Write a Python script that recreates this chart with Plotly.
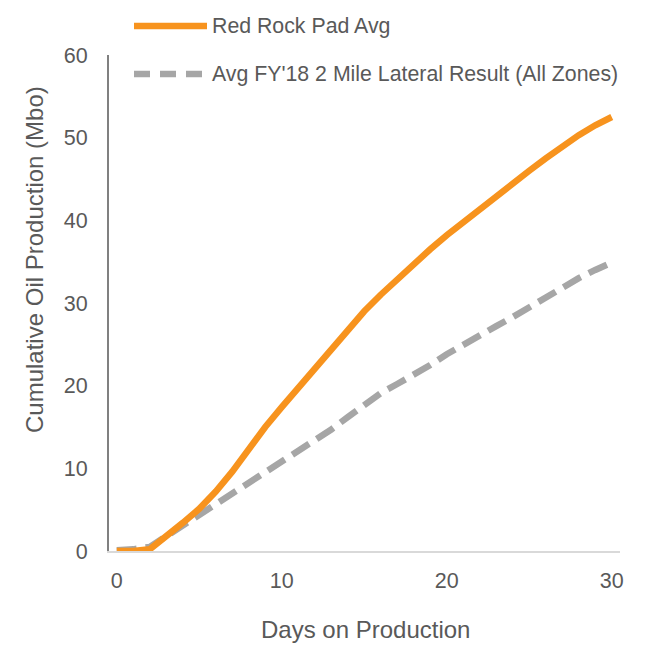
import plotly.graph_objects as go

days = list(range(0, 31))
red_rock = [0.0, 0.0, 0.2, 1.7, 3.4, 5.1, 7.2, 9.6, 12.4, 15.0, 17.4, 19.7, 22.0, 24.5, 26.6,
            29.0, 31.0, 32.9, 34.6, 36.5, 38.2, 39.8, 41.3, 42.8, 44.5, 46.0, 47.5, 49.0,
            50.3, 51.5, 52.5]
fy18_avg = [0.1, 0.2, 0.5, 1.8, 3.0, 4.2, 5.5, 6.9, 8.2, 9.5, 10.7, 12.0, 13.3, 14.7, 16.2,
            17.7, 19.1, 20.2, 21.3, 22.5, 23.8, 25.0, 26.1, 27.2, 28.3, 29.5, 30.7, 31.9,
            33.0, 34.0, 34.9]
series_names = ["Red Rock Pad Avg", "Avg FY'18 2 Mile Lateral Result (All Zones)"]
x_ticks = [0, 10, 20, 30]
y_ticks = [0, 10, 20, 30, 40, 50, 60]
x_title = "Days on Production"
y_title = "Cumulative Oil Production (Mbo)"

ORANGE = "#F7931E"
GRAY = "#A6A6A6"
TXT = "#595959"
FONT = "Liberation Sans, Arial, sans-serif"

fig = go.Figure()
fig.add_trace(go.Scatter(x=days, y=fy18_avg, mode="lines", name=series_names[1],
                         line=dict(color=GRAY, width=6.5, dash="20px,9px"), showlegend=False))
fig.add_trace(go.Scatter(x=days, y=red_rock, mode="lines", name=series_names[0],
                         line=dict(color=ORANGE, width=6.5), showlegend=False))

# pixel -> paper helpers
L, R, T, B = 109, 620, 55, 551
def px_x(p):
    return (p - L) / (R - L)
def px_y(p):
    return (B - p) / (B - T)

# manual legend
legend_rows = [(26, ORANGE, "solid", series_names[0]), (74, GRAY, "16px,10px", series_names[1])]
for py, col, dsh, name in legend_rows:
    fig.add_shape(type="line", xref="paper", yref="paper",
                  x0=px_x(134), x1=px_x(207), y0=px_y(py), y1=px_y(py),
                  line=dict(color=col, width=6.5, dash=dsh))
    fig.add_annotation(xref="paper", yref="paper", x=px_x(210), y=px_y(py),
                       xanchor="left", yanchor="middle", text=name, showarrow=False,
                       font=dict(family=FONT, size=21.3, color=TXT))

# axis titles
fig.add_annotation(xref="paper", yref="paper", x=px_x(365), y=px_y(629),
                   xanchor="center", yanchor="middle", text=x_title, showarrow=False,
                   font=dict(family=FONT, size=24, color=TXT))
fig.add_annotation(xref="paper", yref="paper", x=px_x(34), y=px_y(260),
                   xanchor="center", yanchor="middle", text=y_title, showarrow=False,
                   textangle=-90, font=dict(family=FONT, size=24, color=TXT))

fig.update_layout(
    width=656, height=655,
    margin=dict(l=L, r=656 - R, t=T, b=655 - B),
    paper_bgcolor="white", plot_bgcolor="white",
    showlegend=False,
    font=dict(family=FONT, color=TXT),
    xaxis=dict(range=[-0.47, 30.5], tickvals=x_ticks, showgrid=False, zeroline=False,
               showline=True, linecolor="#D9D9D9", linewidth=2,
               tickfont=dict(size=21.5, color=TXT), ticklabelstandoff=9),
    yaxis=dict(range=[0, 60], tickvals=y_ticks, showgrid=False, zeroline=False,
               showline=True, linecolor="#808080", linewidth=2,
               tickfont=dict(size=21.5, color=TXT), ticklabelstandoff=15),
)

fig.write_html("out.html")
